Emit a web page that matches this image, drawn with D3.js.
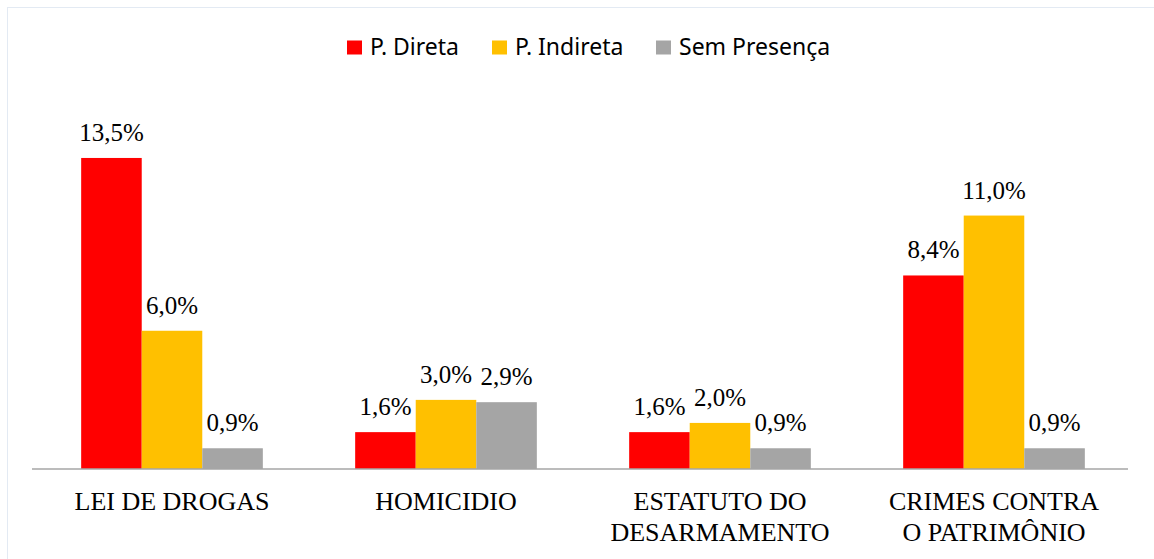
<!DOCTYPE html>
<meta charset="utf-8" />
<script src="https://d3js.org/d3.v7.min.js"></script>
<body style="margin:0;background:#fff">
<svg id="chart" width="1154" height="559" style="display:block"></svg>
<script>
/* data */
const categories = [["LEI DE DROGAS"], ["HOMICIDIO"], ["ESTATUTO DO", "DESARMAMENTO"], ["CRIMES CONTRA", "O PATRIMÔNIO"]];
const series = ["P. Direta", "P. Indireta", "Sem Presença"];
const direta   = [13.5, 1.6, 1.6, 8.4];
const indireta = [6.0, 3.0, 2.0, 11.0];
const semPres  = [0.9, 2.9, 0.9, 0.9];
const colours = ["#ff0000", "#ffc000", "#a5a5a5"];

const W = 1154, H = 559,
      left = 32, right = 1128, base = 469;
const svg = d3.select("#chart");
const values = [direta, indireta, semPres];
const rows = categories.map((c, i) => ({i, c, vals: values.map(v => v[i])}));

// faint outer frame
svg.append("rect").attr("x", 7.5).attr("y", 7.5).attr("width", W).attr("height", H)
  .attr("fill", "none").attr("stroke", "#e3eaf3");

const x0 = d3.scaleBand().domain(d3.range(categories.length)).range([left, right]);
const x1 = d3.scaleBand().domain(d3.range(series.length)).range([0, x0.bandwidth() * 0.663]);
const off = (x0.bandwidth() - x1.range()[1]) / 2 + 3;
const y = d3.scaleLinear().domain([0, 16]).range([base, base - 16 * 23.04]);
const fmt = v => v.toFixed(1).replace(".", ",") + "%";
const serif = "'Liberation Serif', 'Times New Roman', serif";

const g = svg.selectAll("g.grp").data(rows).join("g").attr("class", "grp")
  .attr("transform", d => `translate(${x0(d.i) + off},0)`);

g.selectAll("rect").data(d => d.vals.map((v, s) => ({v, s}))).join("rect")
  .attr("x", d => x1(d.s)).attr("width", x1.bandwidth())
  .attr("y", d => y(d.v)).attr("height", d => base - y(d.v))
  .attr("fill", d => colours[d.s]);

g.selectAll("text.val").data(d => d.vals.map((v, s) => ({v, s}))).join("text")
  .attr("class", "val")
  .attr("x", e => x1(e.s) + x1.bandwidth() / 2)
  .attr("y", e => y(e.v) - 17)
  .attr("text-anchor", "middle")
  .attr("font-family", serif)
  .attr("font-size", 25).attr("fill", "#000")
  .text(e => fmt(e.v));

// axis line
svg.append("line").attr("x1", left).attr("x2", right).attr("y1", base).attr("y2", base)
  .attr("stroke", "#a6a6a6").attr("stroke-width", 1.5);

// category labels
svg.selectAll("text.cat").data(rows).join("text").attr("class", "cat")
  .attr("text-anchor", "middle")
  .attr("font-family", serif)
  .attr("font-size", 26).attr("fill", "#000")
  .each(function(d) {
    const cx = x0(d.i) + off + x1.range()[1] / 2;
    d3.select(this).selectAll("tspan").data(d.c).join("tspan")
      .attr("x", cx).attr("y", (t, k) => 510 + k * 31).text(t => t);
  });

// legend
const legX = [347, 492, 656];
const leg = svg.selectAll("g.leg").data(series).join("g").attr("class", "leg")
  .attr("transform", (d, i) => `translate(${legX[i]},0)`);
leg.append("rect").attr("x", 0).attr("y", 40.5).attr("width", 15).attr("height", 14)
  .attr("fill", (d, i) => colours[i]);
leg.append("text").attr("x", 23).attr("y", 55)
  .attr("font-family", "'Noto Sans', 'Open Sans', sans-serif").attr("font-size", 23)
  .attr("fill", "#000").text(d => d);
</script>
</body>
